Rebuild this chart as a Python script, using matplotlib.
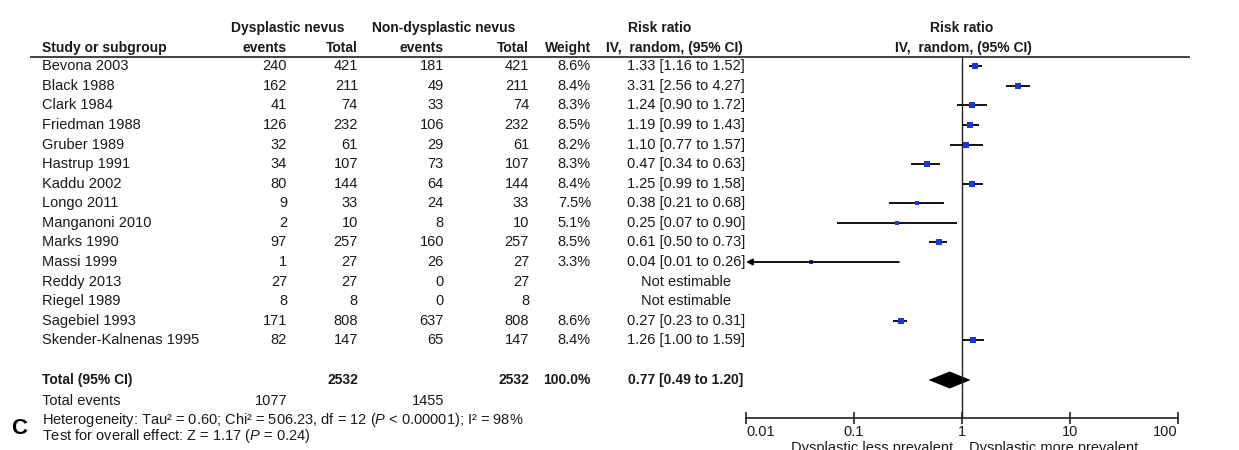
#!/usr/bin/env python3
"""Forest plot: dysplastic vs non-dysplastic nevus, risk ratio (IV, random)."""

import matplotlib
matplotlib.use("Agg")
import matplotlib.pyplot as plt

# ------------------------------------------------------------------
# Data
# ------------------------------------------------------------------

studies = [
    "Bevona 2003", "Black 1988", "Clark 1984", "Friedman 1988", "Gruber 1989",
    "Hastrup 1991", "Kaddu 2002", "Longo 2011", "Manganoni 2010", "Marks 1990",
    "Massi 1999", "Reddy 2013", "Riegel 1989", "Sagebiel 1993",
    "Skender-Kalnenas 1995",
]
dys_events = [240, 162, 41, 126, 32, 34, 80, 9, 2, 97, 1, 27, 8, 171, 82]
dys_total = [421, 211, 74, 232, 61, 107, 144, 33, 10, 257, 27, 27, 8, 808, 147]
non_events = [181, 49, 33, 106, 29, 73, 64, 24, 8, 160, 26, 0, 0, 637, 65]
non_total = [421, 211, 74, 232, 61, 107, 144, 33, 10, 257, 27, 27, 8, 808, 147]
weights = [8.6, 8.4, 8.3, 8.5, 8.2, 8.3, 8.4, 7.5, 5.1, 8.5, 3.3, None, None, 8.6, 8.4]
rr = [1.33, 3.31, 1.24, 1.19, 1.10, 0.47, 1.25, 0.38, 0.25, 0.61, 0.04, None, None, 0.27, 1.26]
rr_lo = [1.16, 2.56, 0.90, 0.99, 0.77, 0.34, 0.99, 0.21, 0.07, 0.50, 0.01, None, None, 0.23, 1.00]
rr_hi = [1.52, 4.27, 1.72, 1.43, 1.57, 0.63, 1.58, 0.68, 0.90, 0.73, 0.26, None, None, 0.31, 1.59]

total_dys, total_non = 2532, 2532
total_weight = "100.0%"
total_events_dys, total_events_non = 1077, 1455
pooled_rr, pooled_lo, pooled_hi = 0.77, 0.49, 1.20

axis_ticks = [0.01, 0.1, 1, 10, 100]
axis_labels = ["0.01", "0.1", "1", "10", "100"]

# ------------------------------------------------------------------
# Layout (pixel units, y grows downward)
# ------------------------------------------------------------------

W, H = 1239, 450
ROW0, ROW_STEP = 66.3, 19.57
Y_HEAD1, Y_HEAD2, Y_RULE = 28, 48, 56.7
Y_TOTAL, Y_EVENTS, Y_HET, Y_TEST = 380, 401, 420, 436
X_AX0, X_AX1, Y_AXIS = 746, 1178, 418

X_STUDY, X_EV1, X_TOT1, X_EV2, X_TOT2, X_W, X_RR = 42, 287, 358, 444, 529, 591, 686

FS = 10.5
FS_BOLD = 10.0
INK = "#1a1a1a"
BLUE = "#1b35e0"

plt.rcParams["font.family"] = ["Liberation Sans", "DejaVu Sans"]
plt.rcParams["mathtext.fontset"] = "custom"
plt.rcParams["mathtext.rm"] = "Liberation Sans"
plt.rcParams["mathtext.it"] = "Liberation Sans:italic"
plt.rcParams["mathtext.bf"] = "Liberation Sans:bold"


def main() -> None:
    fig = plt.figure(figsize=(W / 100, H / 100), dpi=100)
    fig.patch.set_facecolor("white")

    # text layer covering the whole figure
    ax_t = fig.add_axes([0, 0, 1, 1])
    ax_t.set_xlim(0, W)
    ax_t.set_ylim(H, 0)
    ax_t.axis("off")

    def txt(x, y, s, ha="left", bold=False, va="center"):
        ax_t.text(x, y, s, ha=ha, va=va, color=INK,
                  fontsize=FS_BOLD if bold else FS,
                  fontweight="bold" if bold else "normal")

    # headers
    txt(288, Y_HEAD1, "Dysplastic nevus", ha="center", bold=True)
    txt(444, Y_HEAD1, "Non-dysplastic nevus", ha="center", bold=True)
    txt(660, Y_HEAD1, "Risk ratio", ha="center", bold=True)
    txt(962, Y_HEAD1, "Risk ratio", ha="center", bold=True)
    txt(X_STUDY, Y_HEAD2, "Study or subgroup", bold=True)
    txt(X_EV1, Y_HEAD2, "events", ha="right", bold=True)
    txt(X_TOT1, Y_HEAD2, "Total", ha="right", bold=True)
    txt(X_EV2, Y_HEAD2, "events", ha="right", bold=True)
    txt(X_TOT2, Y_HEAD2, "Total", ha="right", bold=True)
    txt(X_W, Y_HEAD2, "Weight", ha="right", bold=True)
    txt(743, Y_HEAD2, "IV,  random, (95% CI)", ha="right", bold=True)
    txt(963, Y_HEAD2, "IV,  random, (95% CI)", ha="center", bold=True)
    ax_t.plot([30, 1190], [Y_RULE, Y_RULE], color="#333333", lw=1.3,
              solid_capstyle="butt")

    # study rows
    for i, name in enumerate(studies):
        y = ROW0 + i * ROW_STEP
        txt(X_STUDY, y, name)
        txt(X_EV1, y, str(dys_events[i]), ha="right")
        txt(X_TOT1, y, str(dys_total[i]), ha="right")
        txt(X_EV2, y, str(non_events[i]), ha="right")
        txt(X_TOT2, y, str(non_total[i]), ha="right")
        if weights[i] is None:
            txt(X_RR, y, "Not estimable", ha="center")
        else:
            txt(X_W, y, f"{weights[i]:.1f}%", ha="right")
            txt(X_RR, y, f"{rr[i]:.2f} [{rr_lo[i]:.2f} to {rr_hi[i]:.2f}]", ha="center")

    # totals and footer
    txt(X_STUDY, Y_TOTAL, "Total (95% CI)", bold=True)
    txt(X_TOT1, Y_TOTAL, str(total_dys), ha="right", bold=True)
    txt(X_TOT2, Y_TOTAL, str(total_non), ha="right", bold=True)
    txt(X_W, Y_TOTAL, total_weight, ha="right", bold=True)
    txt(X_RR, Y_TOTAL, f"{pooled_rr:.2f} [{pooled_lo:.2f} to {pooled_hi:.2f}]",
        ha="center", bold=True)
    txt(X_STUDY, Y_EVENTS, "Total events")
    txt(X_EV1, Y_EVENTS, str(total_events_dys), ha="right")
    txt(X_EV2, Y_EVENTS, str(total_events_non), ha="right")
    txt(X_STUDY, Y_HET, "Heterogeneity: Tau\u00b2 = 0.60; Chi\u00b2 = 506.23, df = 12 "
        "($\\mathit{P}$ < 0.00001); I\u00b2 = 98%")
    txt(X_STUDY, Y_TEST, "Test for overall effect: Z = 1.17 ($\\mathit{P}$ = 0.24)")
    ax_t.text(11, 428, "C", ha="left", va="center", fontsize=16,
              fontweight="bold", color="black")

    # forest panel
    ax = fig.add_axes([X_AX0 / W, (H - Y_AXIS) / H,
                       (X_AX1 - X_AX0) / W, (Y_AXIS - Y_RULE) / H])
    ax.set_xscale("log")
    ax.set_xlim(0.01, 100)
    ax.set_ylim(Y_AXIS, Y_RULE)
    ax.patch.set_alpha(0)
    for side in ("top", "left", "right"):
        ax.spines[side].set_visible(False)
    ax.spines["bottom"].set_color("#222222")
    ax.spines["bottom"].set_linewidth(1.2)
    ax.set_yticks([])
    ax.set_xticks(axis_ticks)
    ax.set_xticklabels(axis_labels)
    ax.minorticks_off()
    ax.tick_params(axis="x", direction="inout", length=8, width=1.2,
                   color="#222222", labelsize=FS, labelcolor=INK, pad=1)
    labels = ax.get_xticklabels()
    labels[0].set_horizontalalignment("left")
    labels[-1].set_horizontalalignment("right")

    ax.axvline(1, color="#222222", lw=1.0)

    for i in range(len(studies)):
        if rr[i] is None:
            continue
        y = ROW0 + i * ROW_STEP
        if rr_lo[i] <= 0.01:
            ax.annotate("", xy=(rr_lo[i], y), xytext=(rr_hi[i], y),
                        arrowprops=dict(arrowstyle="-|>", color="black", lw=1.3,
                                        mutation_scale=9, shrinkA=0, shrinkB=0),
                        annotation_clip=False)
        else:
            ax.plot([rr_lo[i], rr_hi[i]], [y, y], color="black", lw=1.3,
                    solid_capstyle="butt")
        ax.plot(rr[i], y, marker="s", color=BLUE, markersize=1.3 * weights[i] ** 0.5,
                markeredgewidth=0)

    ax.fill([pooled_lo, pooled_rr, pooled_hi, pooled_rr],
            [Y_TOTAL, Y_TOTAL - 8.5, Y_TOTAL, Y_TOTAL + 8.5],
            color="black", lw=0, clip_on=False)

    txt(953, 441, "Dysplastic less prevalent", ha="right", va="top")
    txt(969, 441, "Dysplastic more prevalent", ha="left", va="top")

    fig.savefig("out.png", dpi=100, facecolor="white")
    plt.close(fig)


if __name__ == "__main__":
    main()
